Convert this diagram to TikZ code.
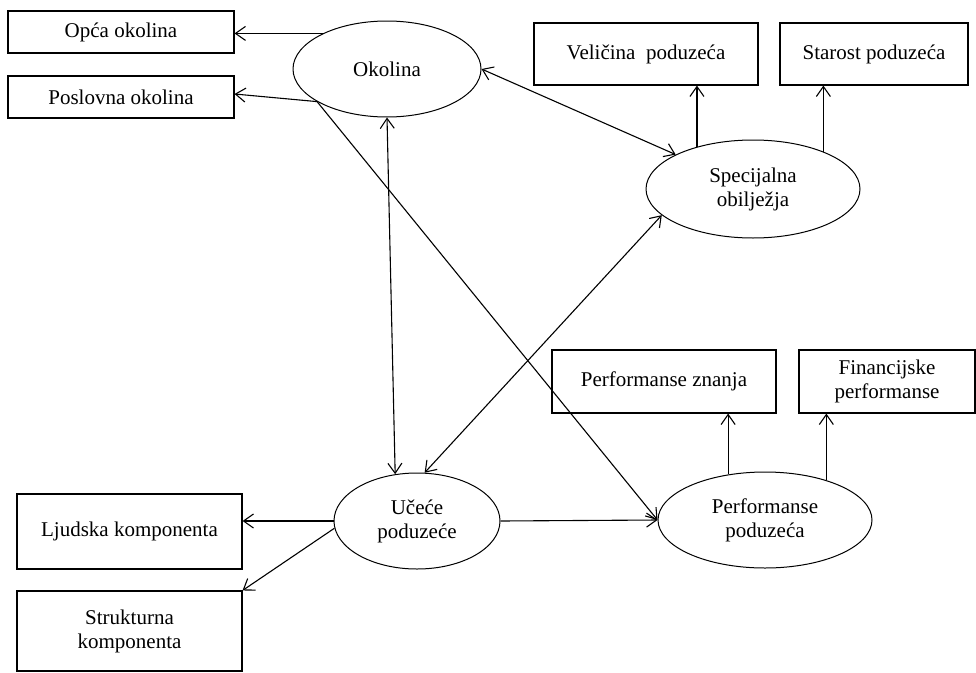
\documentclass[tikz,border=0pt]{standalone}
\usepackage{fontspec}
\setmainfont{Liberation Serif}
\usetikzlibrary{shapes.geometric,arrows.meta,calc}
\tikzset{
  box/.style={draw, line width=1.1pt, rectangle, inner sep=0pt, align=center, font=\fontsize{21}{24}\selectfont},
  oval/.style={draw, line width=1pt, ellipse, inner sep=0pt, align=center, font=\fontsize{21}{24}\selectfont},
  conn/.style={line width=1.1pt, -{Straight Barb[length=10pt,width=14pt]}},
  dconn/.style={line width=1.1pt, {Straight Barb[length=10pt,width=14pt]}-{Straight Barb[length=10pt,width=14pt]}}
}
\begin{document}
\begin{tikzpicture}[x=1pt,y=-1pt]
\useasboundingbox (0,0) rectangle (976,672);
% boxes
\node[box, minimum width=226, minimum height=42] (opca) at (121,32) {Opća okolina};
\node[box, minimum width=226, minimum height=42] (posl) at (121,97) {Poslovna okolina};
\node[box, minimum width=224, minimum height=62] (vel) at (646,54) {Veličina\ \ poduzeća};
\node[box, minimum width=188, minimum height=62] (star) at (874,54) {Starost poduzeća};
\node[box, minimum width=224, minimum height=63] (pz) at (664,381.5) {Performanse znanja};
\node[box, minimum width=176, minimum height=63] (fin) at (887,381.5) {Financijske\\performanse};
\node[box, minimum width=225, minimum height=75] (lj) at (129.5,531.5) {Ljudska komponenta};
\node[box, minimum width=225, minimum height=80] (str) at (129.5,631) {Strukturna\\komponenta};
% ellipses
\node[oval, minimum width=188, minimum height=96] (ok) at (387,69) {Okolina};
\node[oval, minimum width=214, minimum height=98] (spec) at (753,189) {Specijalna\\obilježja};
\node[oval, minimum width=166, minimum height=96] (uc) at (417,521) {Učeće\\poduzeće};
\node[oval, minimum width=214, minimum height=96] (pp) at (765,520) {Performanse\\poduzeća};
% connectors
\draw[conn] (ok.151) -- (ok.151 -| opca.east);
\draw[conn] (ok.205) -- ([yshift=3]posl.east);
\draw[conn] (ok.205) -- (pp.west);
\draw[dconn] (ok.east) -- (spec.156);
\draw[dconn] (ok.south) -- (uc.115);
\draw[dconn] (spec.196) -- (uc.81);
\draw[conn] (spec.143) -- (spec.143 |- vel.south);
\draw[conn] (spec.28.5) -- (spec.28.5 |- star.south);
\draw[conn] (pp.129.4) -- (pp.129.4 |- pz.south);
\draw[conn] (pp.33.5) -- (pp.33.5 |- fin.south);
\draw[conn] (uc.west) -- (uc.west -| lj.east);
\draw[conn] (uc.185) -- (str.north east);
\draw[conn] (uc.east) -- (pp.west);
\end{tikzpicture}
\end{document}
